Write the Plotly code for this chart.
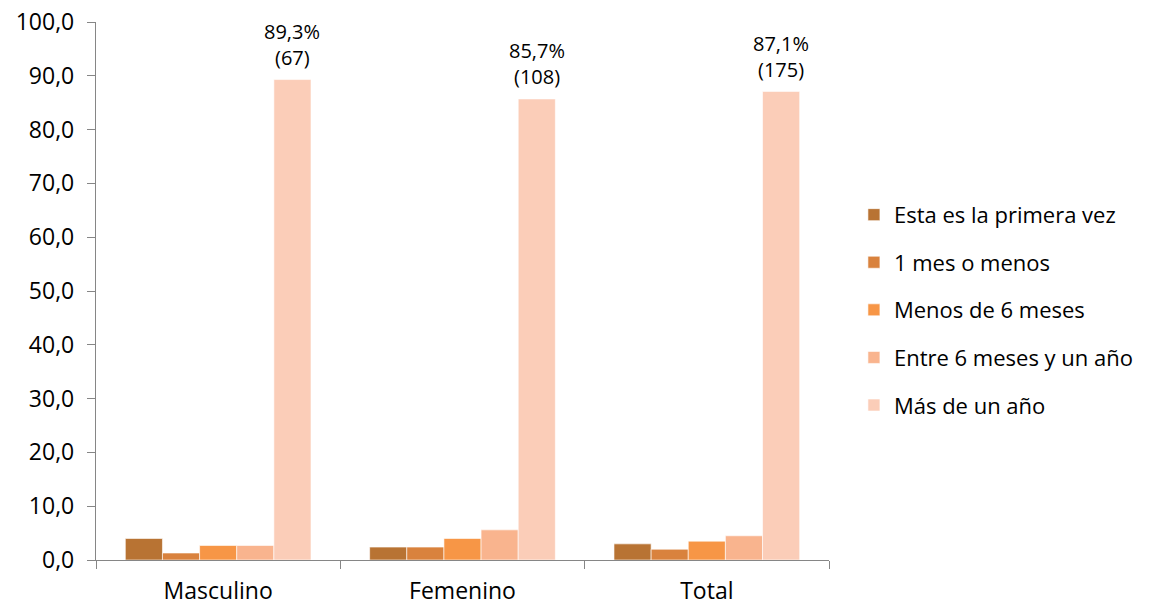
import plotly.graph_objects as go

categories = ["Masculino", "Femenino", "Total"]
series_names = ["Esta es la primera vez", "1 mes o menos", "Menos de 6 meses",
                "Entre 6 meses y un año", "Más de un año"]
values = [
    [4.0, 2.4, 3.0],
    [1.3, 2.4, 2.0],
    [2.7, 4.0, 3.5],
    [2.7, 5.6, 4.5],
    [89.3, 85.7, 87.1],
]
counts_last = [67, 108, 175]
colors = ["#B87333", "#D9823D", "#F79646", "#F9B48E", "#FBCDB8"]

FONT = "Open Sans"
FS = 23
BARGAP = 0.24
PLOT_W = 1151 - 96 - 322

fig = go.Figure()
for name, vals, col in zip(series_names, values, colors):
    fig.add_trace(go.Bar(
        x=categories, y=vals, name=name, legendgroup=name,
        marker=dict(color=col, line=dict(color="white", width=0.6)),
        hoverinfo="skip"))

# labels above the last series' bars
n_series = len(series_names)
cat_w = PLOT_W / len(categories)
bar_w = cat_w * (1 - BARGAP) / n_series
last_shift = (n_series - 1 - (n_series - 1) / 2) * bar_w
for cat, v, c in zip(categories, values[-1], counts_last):
    pct = f"{v:.1f}%".replace(".", ",")
    fig.add_annotation(x=cat, y=v, text=pct, showarrow=False, xshift=last_shift,
                       yanchor="middle", yshift=48, font=dict(family=FONT, size=20))
    fig.add_annotation(x=cat, y=v, text=f"({c})", showarrow=False, xshift=last_shift,
                       yanchor="middle", yshift=22, font=dict(family=FONT, size=20))

fig.update_layout(
    width=1151, height=606,
    margin=dict(l=96, r=322, t=22, b=46),
    paper_bgcolor="white", plot_bgcolor="white",
    barmode="group", bargap=BARGAP, bargroupgap=0,
    separators=",.",
    font=dict(family=FONT, size=FS, color="#000000"),
    showlegend=True,
    legend=dict(x=1.034, xanchor="left", y=0.465, yanchor="middle",
                font=dict(family=FONT, size=22), tracegroupgap=16,
                itemwidth=30, bgcolor="rgba(0,0,0,0)"),
)
fig.update_yaxes(range=[0, 100], dtick=10, tickformat=".1f", showgrid=False,
                 showline=True, linecolor="#868686", linewidth=1.3,
                 ticks="outside", ticklen=8, tickcolor="#868686", tickwidth=1.3,
                 zeroline=False, tickfont=dict(family=FONT, size=FS),
                 ticklabelstandoff=8, automargin=False)
fig.update_xaxes(showline=True, linecolor="#868686", linewidth=1.3,
                 ticks="outside", ticklen=8, tickcolor="#868686", tickwidth=1.3,
                 tickson="boundaries", showgrid=False,
                 tickfont=dict(family=FONT, size=FS), ticklabelstandoff=10,
                 automargin=False)

fig.write_html("out.html")
